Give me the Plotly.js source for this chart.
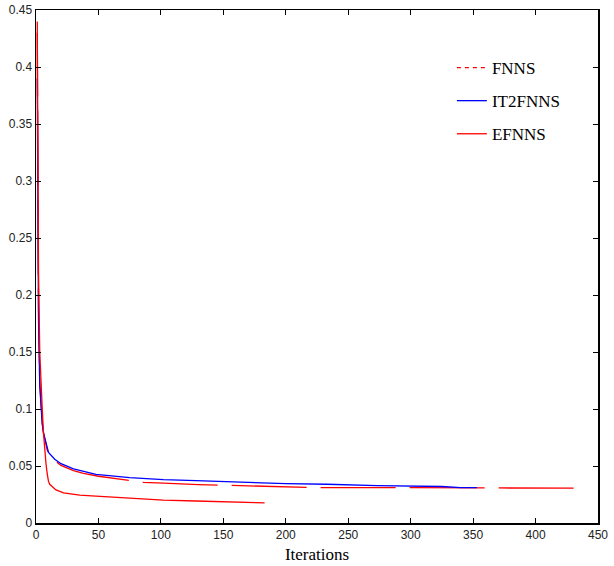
<!DOCTYPE html>
<html>
<head>
<meta charset="utf-8">
<script src="https://cdn.plot.ly/plotly-3.0.1.min.js"></script>
<style>html,body{margin:0;padding:0;background:#fff;}#chart{width:614px;height:566px;}</style>
</head>
<body>
<div id="chart"></div>
<script>
const seriesNames = ["FNNS", "IT2FNNS", "EFNNS"];
const fnnsIter = [1,2,3,4,5,6,8,9,10,15,20,30,38,50,70,86,102,130,170,200,214,227,300,400,438];
const fnnsErr  = [0.44,0.19,0.125,0.1,0.088,0.079,0.068,0.064,0.061,0.055,0.0505,0.046,0.0435,0.041,0.038,0.0357,0.035,0.0337,0.0326,0.032,0.0318,0.031,0.031,0.0306,0.0305];
const it2Iter = [1,2,3,4,5,6,8,9,10,15,20,30,48,75,102,128,155,182,200,233,273,325,340,353];
const it2Err  = [0.39,0.18,0.12,0.098,0.087,0.079,0.069,0.065,0.062,0.056,0.052,0.0475,0.0427,0.0398,0.038,0.0372,0.036,0.0348,0.0345,0.034,0.0328,0.032,0.031,0.031];
const efIter = [1,2,3,4,5,6,7,8,9,10,11,13,16,22,35,48,75,102,128,155,183];
const efErr  = [0.43,0.22,0.15,0.12,0.1,0.079,0.063,0.052,0.043,0.0365,0.034,0.0318,0.029,0.0265,0.0245,0.0235,0.0218,0.02,0.0193,0.0183,0.0177];
const xTicks = [0,50,100,150,200,250,300,350,400,450];
const yTicks = [0,0.05,0.1,0.15,0.2,0.25,0.3,0.35,0.4,0.45];

const traces = [
  {x: fnnsIter, y: fnnsErr, mode: "lines", name: seriesNames[0], showlegend: false,
   line: {color: "#ff0000", width: 1.3, dash: "75px,14px"}},
  {x: it2Iter, y: it2Err, mode: "lines", name: seriesNames[1], showlegend: false,
   line: {color: "#0000ff", width: 1.3}},
  {x: efIter, y: efErr, mode: "lines", name: seriesNames[2], showlegend: false,
   line: {color: "#ff0000", width: 1.3}},
  {x: [null], y: [null], mode: "lines", name: seriesNames[0], legendgroup: "a",
   line: {color: "#ff0000", width: 1.3, dash: "4px,4px"}},
  {x: [null], y: [null], mode: "lines", name: seriesNames[1], legendgroup: "b",
   line: {color: "#0000ff", width: 1.3}},
  {x: [null], y: [null], mode: "lines", name: seriesNames[2], legendgroup: "c",
   line: {color: "#ff0000", width: 1.3}}
];

const tickFont = {family: "Liberation Sans Narrow, Liberation Sans, Arial", size: 12, color: "#222"};
const layout = {
  width: 614, height: 566,
  margin: {l: 36, r: 16, t: 10, b: 43},
  paper_bgcolor: "#fff", plot_bgcolor: "#fff",
  showlegend: true,
  legend: {x: 0.74, y: 0.922, xanchor: "left", yanchor: "top", bgcolor: "rgba(0,0,0,0)",
           font: {family: "Liberation Serif, Times New Roman, serif", size: 17, color: "#000"},
           traceorder: "grouped", tracegroupgap: 8},
  xaxis: {range: [0, 450], tickvals: xTicks, ticktext: xTicks.map(String),
          ticks: "inside", ticklen: 5, tickcolor: "#000", showgrid: false, zeroline: false,
          showline: true, linecolor: "#000", linewidth: 1.5, mirror: "ticks",
          tickfont: tickFont,
          title: {text: "Iterations", standoff: 7, font: {family: "Liberation Serif, Times New Roman, serif", size: 17, color: "#000"}}},
  yaxis: {range: [0, 0.45], tickvals: yTicks, ticktext: yTicks.map(String),
          ticks: "inside", ticklen: 5, tickcolor: "#000", showgrid: false, zeroline: false,
          showline: true, linecolor: "#000", linewidth: 1.5, mirror: "ticks",
          tickfont: tickFont}
};
Plotly.newPlot("chart", traces, layout, {displayModeBar: false, staticPlot: true});
</script>
</body>
</html>
